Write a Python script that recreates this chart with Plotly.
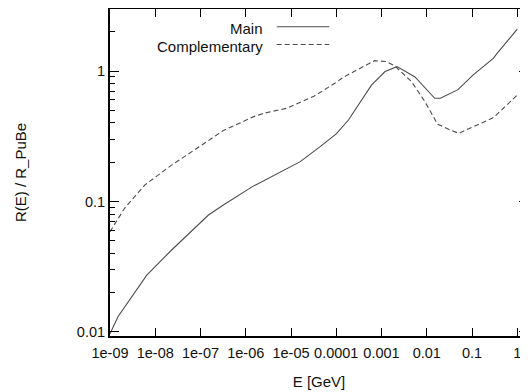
import plotly.graph_objects as go

# ---- data ----
main_E = [1e-9, 1.5e-9, 6.5e-9, 2.3e-8, 1.5e-7, 3.2e-7, 1.4e-6, 1.6e-5, 4.4e-5, 1.0e-4,
          1.86e-4, 6.0e-4, 1.2e-3, 2.2e-3, 5.5e-3, 1.5e-2, 2.0e-2, 4.9e-2, 0.105, 0.2,
          0.295, 0.363, 1.0]
main_R = [0.0097, 0.0131, 0.0273, 0.0425, 0.0788, 0.094, 0.13, 0.202, 0.263, 0.33,
          0.421, 0.78, 0.99, 1.08, 0.90, 0.618, 0.618, 0.72, 0.93, 1.11,
          1.25, 1.37, 2.09]

comp_E = [1e-9, 2.1e-9, 5.9e-9, 2.3e-8, 1.07e-7, 3.2e-7, 1.5e-6, 2.5e-6, 8.0e-6, 3.2e-5,
          9.3e-5, 1.5e-4, 7.0e-4, 1.3e-3, 2.0e-3, 4.6e-3, 8.9e-3, 1.75e-2, 3.5e-2, 5.1e-2,
          0.3, 1.0]
comp_R = [0.0587, 0.0887, 0.134, 0.19, 0.271, 0.35, 0.447, 0.474, 0.518, 0.64,
          0.805, 0.904, 1.2, 1.18, 1.09, 0.83, 0.59, 0.39, 0.35, 0.333,
          0.44, 0.655]

x_tickvals = [1e-9, 1e-8, 1e-7, 1e-6, 1e-5, 1e-4, 1e-3, 1e-2, 1e-1, 1]
x_ticktext = ["1e-09", "1e-08", "1e-07", "1e-06", "1e-05", "0.0001", "0.001", "0.01", "0.1", "1"]
y_tickvals = [0.01, 0.1, 1]
y_ticktext = ["0.01", "0.1", "1"]
y_minor = [0.02, 0.03, 0.04, 0.05, 0.06, 0.07, 0.08, 0.09,
           0.2, 0.3, 0.4, 0.5, 0.6, 0.7, 0.8, 0.9, 2]

series_names = ["Main", "Complementary"]

FONT = "Liberation Sans, Arial, Helvetica, sans-serif"
LINE_COLOR = "#4d4d4d"

fig = go.Figure()
fig.add_trace(go.Scatter(x=main_E, y=main_R, mode="lines", name=series_names[0],
                         line=dict(color=LINE_COLOR, width=1.1), showlegend=False))
fig.add_trace(go.Scatter(x=comp_E, y=comp_R, mode="lines", name=series_names[1],
                         line=dict(color=LINE_COLOR, width=1.1, dash="5px,3px"), showlegend=False))

# gnuplot-style key: right-aligned text, line sample to the right
key_text_y = [0.9398, 0.8853]
key_line_y = [0.9459, 0.8914]
key_dash = ["solid", "5px,3px"]
for name, ty, ly, dsh in zip(series_names, key_text_y, key_line_y, key_dash):
    fig.add_annotation(x=0.3715, y=ty, xref="paper", yref="paper", text=name,
                       showarrow=False, xanchor="right", yanchor="middle",
                       font=dict(family=FONT, size=15, color="#111"))
    fig.add_shape(type="line", xref="paper", yref="paper", x0=0.3988, x1=0.5246,
                  y0=ly, y1=ly, line=dict(color=LINE_COLOR, width=1.1, dash=dsh))

# the page body has an 8px margin, so the figure is sized/offset to compensate
fig.update_layout(
    width=520, height=384,
    margin=dict(l=102, r=0, t=1, b=56),
    paper_bgcolor="white", plot_bgcolor="white",
    font=dict(family=FONT, size=14.5, color="#111"),
    showlegend=False,
)
fig.update_xaxes(
    type="log", range=[-9, 0.2376], automargin=False,
    tickvals=x_tickvals, ticktext=x_ticktext, ticklabelstandoff=3,
    ticks="inside", ticklen=8, tickwidth=1, tickcolor="black",
    showline=True, linewidth=2, linecolor="black", mirror="ticks",
    showgrid=False, zeroline=False,
    title=dict(text="E [GeV]", font=dict(size=15), standoff=16),
)
fig.update_yaxes(
    type="log", range=[-2.0307, 0.4751], automargin=False,
    tickvals=y_tickvals, ticktext=y_ticktext,
    ticks="inside", ticklen=9, tickwidth=1, tickcolor="black",
    minor=dict(tickvals=y_minor, ticks="inside", ticklen=4.5, tickwidth=1, tickcolor="black", showgrid=False),
    showline=True, linewidth=2, linecolor="black", mirror="ticks",
    showgrid=False, zeroline=False,
    title=dict(text="R(E) / R_PuBe", font=dict(size=15), standoff=47),
)

fig.write_html("out.html")
